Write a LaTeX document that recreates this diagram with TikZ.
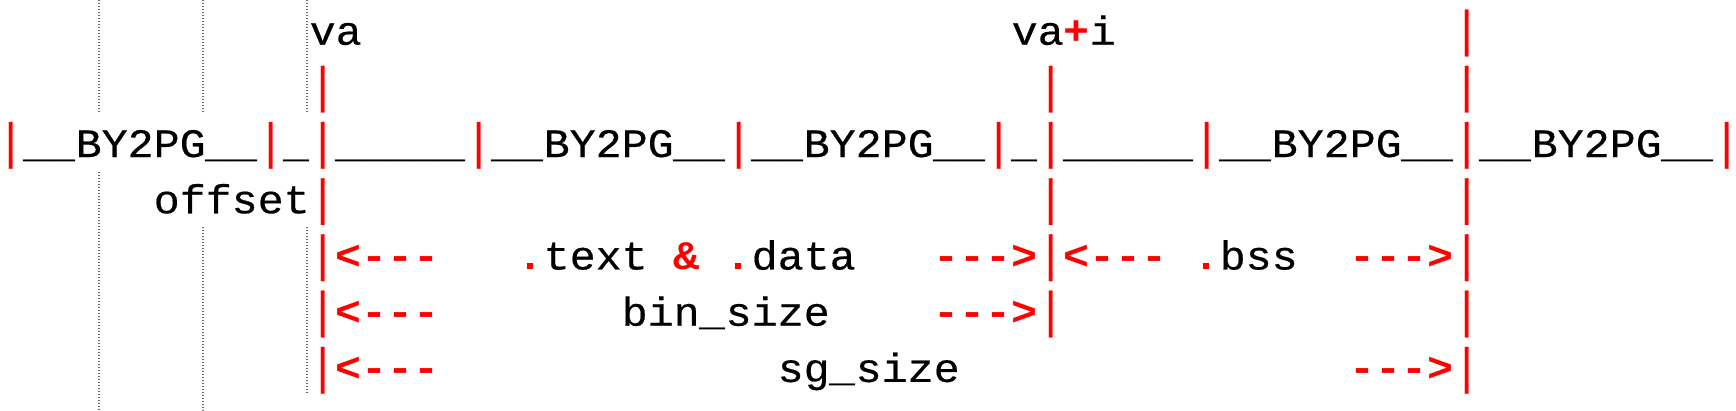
\documentclass[tikz,border=0pt]{standalone}
\usepackage{fontspec}
\usepackage{graphicx}
\newfontfamily\mono[FakeStretch=1.0698,FakeBold=0.4]{Liberation Mono}
\newfontfamily\monob[FakeStretch=1.0698]{Liberation Mono Bold}
\newcommand\dsh{\mbox{-}}
\newcommand\R[1]{\textcolor{red}{\monob #1}}
\newcommand\U{\mbox{\monob\_}}
\newcommand\B{\makebox[0pt]{\textcolor{red}{\raisebox{-11.6pt}{\resizebox*{\width}{46.6pt}{\raisebox{\depth}{|}}}}}}
\newcommand\la{\R{<\dsh\dsh\dsh}}
\newcommand\ra{\R{\dsh\dsh\dsh>}}
\newcommand\tx[4]{\node[txt] (#1) at ({-2.3+26*#2},{44.7+56.2*(#3-1)}) {#4};}
\newcommand\br[3]{\node[bar] (#1) at ({10.7+26*#2},{44.7+56.2*(#3-1)}) {\B};}
\begin{document}
\begin{tikzpicture}[x=1pt,y=-1pt,
  txt/.style={anchor=base west,inner sep=0pt,outer sep=0pt,font=\mono\fontsize{40.5pt}{50pt}\selectfont},
  bar/.style={anchor=base,inner sep=0pt,outer sep=0pt,font=\mono\fontsize{40.5pt}{50pt}\selectfont},
  guide/.style={black!60,line width=1.6pt,dash pattern=on 1.5pt off 1.5pt}]
\useasboundingbox (0,0) rectangle (1736,411);
\fill[white] (0,0) rectangle (1736,411);
% indent guides
\coordinate (g4a) at (99,0);    \coordinate (g4b) at (99,113.3);
\coordinate (g4c) at (99,171.7);\coordinate (g4d) at (99,411);
\coordinate (g8a) at (203,0);   \coordinate (g8b) at (203,113.3);
\coordinate (g8c) at (203,226.7);\coordinate (g8d) at (203,411);
\coordinate (gca) at (306.7,0); \coordinate (gcb) at (306.7,113.3);
\coordinate (gcc) at (306.7,226.7);\coordinate (gcd) at (306.7,393.3);
\draw[guide] (g4a) -- (g4b) (g4c) -- (g4d);
\draw[guide] (g8a) -- (g8b) (g8c) -- (g8d);
\draw[guide] (gca) -- (gcb) (gcc) -- (gcd);
% line 1
\tx{va}{12}{1}{va}
\tx{vai}{39}{1}{va\R{+}i}
\br{b1c56}{56}{1}
% line 2
\br{b2c12}{12}{2}
\br{b2c40}{40}{2}
\br{b2c56}{56}{2}
% line 3
\br{b3c0}{0}{3}
\tx{p1}{1}{3}{\U\U BY2PG\U\U}
\br{b3c10}{10}{3}
\tx{u1}{11}{3}{\U}
\br{b3c12}{12}{3}
\tx{u2}{13}{3}{\U\U\U\U\U}
\br{b3c18}{18}{3}
\tx{p2}{19}{3}{\U\U BY2PG\U\U}
\br{b3c28}{28}{3}
\tx{p3}{29}{3}{\U\U BY2PG\U\U}
\br{b3c38}{38}{3}
\tx{u3}{39}{3}{\U}
\br{b3c40}{40}{3}
\tx{u4}{41}{3}{\U\U\U\U\U}
\br{b3c46}{46}{3}
\tx{p4}{47}{3}{\U\U BY2PG\U\U}
\br{b3c56}{56}{3}
\tx{p5}{57}{3}{\U\U BY2PG\U\U}
\br{b3c66}{66}{3}
% line 4
\tx{off}{6}{4}{offset}
\br{b4c12}{12}{4}
\br{b4c40}{40}{4}
\br{b4c56}{56}{4}
% line 5
\br{b5c12}{12}{5}
\tx{l5a}{13}{5}{\la}
\tx{text}{20}{5}{\R{.}text}
\tx{amp}{26}{5}{\R{\&}}
\tx{data}{28}{5}{\R{.}data}
\tx{r5a}{36}{5}{\ra}
\br{b5c40}{40}{5}
\tx{l5b}{41}{5}{\la}
\tx{bss}{46}{5}{\R{.}bss}
\tx{r5b}{52}{5}{\ra}
\br{b5c56}{56}{5}
% line 6
\br{b6c12}{12}{6}
\tx{l6}{13}{6}{\la}
\tx{bin}{24}{6}{bin\U size}
\tx{r6}{36}{6}{\ra}
\br{b6c40}{40}{6}
\br{b6c56}{56}{6}
% line 7
\br{b7c12}{12}{7}
\tx{l7}{13}{7}{\la}
\tx{sg}{30}{7}{sg\U size}
\tx{r7}{52}{7}{\ra}
\br{b7c56}{56}{7}
\end{tikzpicture}
\end{document}
